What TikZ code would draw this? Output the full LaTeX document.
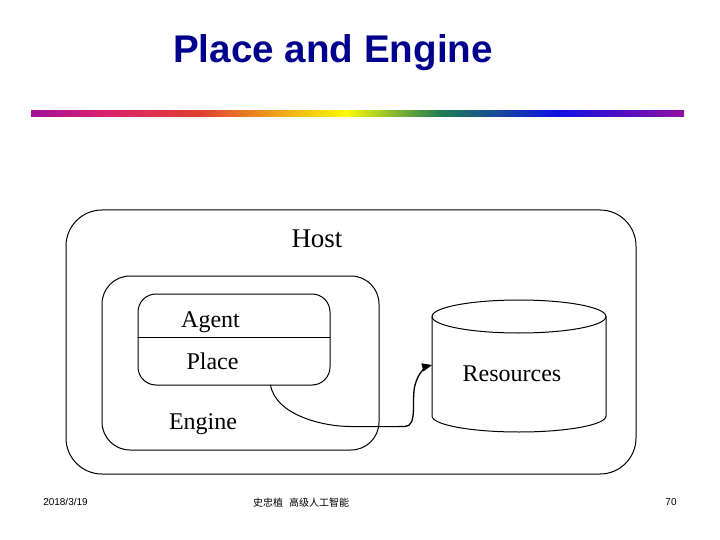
\documentclass[tikz,border=0pt]{standalone}
\usepackage{fontspec}
\setmainfont{Liberation Serif}
\newfontfamily\arialfont{Liberation Sans}
\newfontfamily\cjkfont{Noto Sans CJK SC}
\usepackage{tikz}
\usetikzlibrary{arrows}
\definecolor{titleblue}{RGB}{0,0,140}
\definecolor{barpurple}{RGB}{160,16,154}
\definecolor{barcrimson}{RGB}{216,32,112}
\definecolor{barred}{RGB}{224,64,48}
\definecolor{baryellow}{RGB}{250,250,10}
\definecolor{bargreen}{RGB}{32,128,80}
\definecolor{barblue}{RGB}{16,16,230}
\definecolor{barend}{RGB}{144,16,160}
\tikzset{
  box/.style={draw,inner sep=0pt,outer sep=0pt},
  lbl/.style={inner sep=0pt,font=\fontsize{24}{24}\selectfont},
  foot/.style={inner sep=0pt,font=\arialfont\fontsize{10}{10}\selectfont}
}
\begin{document}
\begin{tikzpicture}[line cap=round,line join=round,>=triangle 45,x=1pt,y=-1pt,line width=1pt]
\useasboundingbox (0,0) rectangle (720,540);
% title and bar
\node[inner sep=0pt,text=titleblue,font=\arialfont\bfseries\fontsize{38.6}{38.6}\selectfont] (title) at (333,53) {Place and Engine};
\foreach \xa/\xb/\ca/\cb in {31/100/barpurple/barcrimson,100/200/barcrimson/barred,200/346/barred/baryellow,346/438/baryellow/bargreen,438/558/bargreen/barblue,558/684/barblue/barend}
  \shade[left color=\ca,right color=\cb] (\xa,111) rectangle (\xb,117);
% boxes
\node[box,rounded corners=36pt,minimum width=570pt,minimum height=264pt] (host) at (351,342) {};
\node[box,rounded corners=28pt,minimum width=277pt,minimum height=174pt] (engine) at (240.5,363) {};
\node[box,rounded corners=18pt,minimum width=192pt,minimum height=91pt] (agent) at (234,339.5) {};
\draw ([yshift=2.5pt]agent.west) -- ([yshift=2.5pt]agent.east);
% cylinder
\draw (519,316.5) ellipse [x radius=87pt,y radius=16.5pt];
\draw (432,316.5) -- (432,416) arc [start angle=180,end angle=360,x radius=87pt,y radius=16pt] -- (606,316.5);
% labels
\node[lbl,font=\fontsize{27}{27}\selectfont] (hostlbl) at (317,239) {Host};
\node[lbl] (agentlbl) at (210.5,322) {Agent};
\node[lbl] (placelbl) at (212.5,361) {Place};
\node[lbl] (enginelbl) at (203,424) {Engine};
\node[lbl] (reslbl) at (512,374) {Resources};
% connector
\coordinate (tail) at (270.5,385);
\coordinate (mid) at (398,426.5);
\coordinate (head) at (432,365);
\draw (tail) .. controls (276,416) and (325,426.5) .. (350,426.5) -- (mid);
\draw[->,line width=1.3pt] (mid) -- (405,426.5) .. controls (418,426) and (411,400) .. (415,385) .. controls (418,374) and (424,367) .. (head);
% footer
\node[foot] (date) at (65.5,502) {2018/3/19};
\node[inner sep=0pt,font=\cjkfont\fontsize{10}{10}\selectfont] (lecture) at (301,502.5) {史忠植\hspace{0.6em}高级人工智能};
\node[foot] (pageno) at (671,502) {70};
\end{tikzpicture}
\end{document}
